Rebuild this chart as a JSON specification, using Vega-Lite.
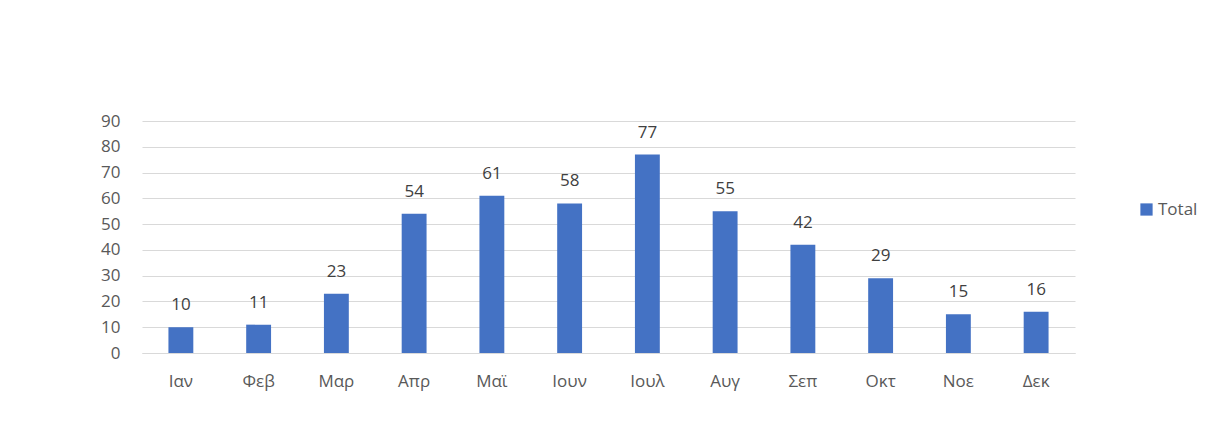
{
  "$schema": "https://vega.github.io/schema/vega-lite/v6.json",
  "autosize": {"type": "none"},
  "width": 933,
  "height": 232,
  "padding": {"left": 142, "top": 121, "right": 153, "bottom": 72},
  "background": "white",
  "config": {
    "font": "Open Sans",
    "view": {"stroke": null}
  },
  "data": {"values": [
    {"month": "Ιαν", "value": 10, "series": "Total"},
    {"month": "Φεβ", "value": 11, "series": "Total"},
    {"month": "Μαρ", "value": 23, "series": "Total"},
    {"month": "Απρ", "value": 54, "series": "Total"},
    {"month": "Μαϊ", "value": 61, "series": "Total"},
    {"month": "Ιουν", "value": 58, "series": "Total"},
    {"month": "Ιουλ", "value": 77, "series": "Total"},
    {"month": "Αυγ", "value": 55, "series": "Total"},
    {"month": "Σεπ", "value": 42, "series": "Total"},
    {"month": "Οκτ", "value": 29, "series": "Total"},
    {"month": "Νοε", "value": 15, "series": "Total"},
    {"month": "Δεκ", "value": 16, "series": "Total"}
  ]},
  "encoding": {
    "x": {"field": "month", "type": "nominal", "sort": null,
      "scale": {"paddingInner": 0.68, "paddingOuter": 0.34},
      "axis": {"title": null, "labelAngle": 0, "domain": true, "domainColor": "#d9d9d9", "ticks": false, "labelPadding": 20, "grid": false, "labelFont": "Open Sans", "labelFontSize": 17, "labelColor": "#595959"}},
    "y": {"field": "value", "type": "quantitative",
      "scale": {"domain": [0, 90]},
      "axis": {"title": null, "values": [0,10,20,30,40,50,60,70,80,90], "domain": false, "ticks": false, "labelPadding": 22, "gridColor": "#d9d9d9", "gridWidth": 1, "labelFont": "Open Sans", "labelFontSize": 17, "labelColor": "#595959"}}
  },
  "layer": [
    {"mark": {"type": "bar"},
     "encoding": {"color": {"field": "series", "type": "nominal",
        "scale": {"domain": ["Total"], "range": ["#4472C4"]},
        "legend": {"title": null, "orient": "none", "legendX": 996, "legendY": 80, "symbolType": "square", "symbolSize": 150, "symbolStrokeWidth": 0, "labelFontSize": 17, "labelColor": "#595959", "labelFont": "Open Sans", "labelOffset": 3}}}},
    {"mark": {"type": "text", "baseline": "bottom", "dy": -13, "fontSize": 17, "color": "#404040", "font": "Open Sans"},
     "encoding": {"text": {"field": "value", "type": "quantitative"}}}
  ]
}
